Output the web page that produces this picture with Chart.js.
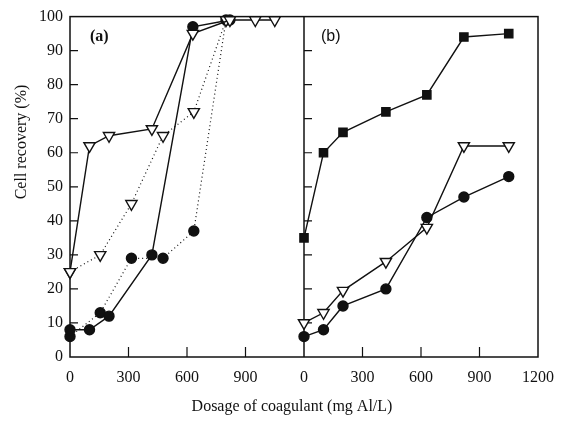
<!doctype html>
<html lang="en">
<head>
  <meta charset="utf-8">
  <title>Cell recovery vs coagulant dosage</title>
  <style>
    * { margin: 0; padding: 0; }
    body { background: #fff; }
    .chartBox { width: 565px; height: 423px; }
  </style>
</head>
<body>
  <div class="chartBox">
    <canvas id="myChart"></canvas>
  </div>
  <script src="https://cdn.jsdelivr.net/npm/chart.js"></script>
  <script>
    // setup - values

    // panel (a), solid lines
    const doseA = [0, 100, 200, 420, 630, 820, 950, 1050];
    const triA = [25, 62, 65, 67, 95, 99, 99, 99];
    const doseA2 = [0, 100, 200, 420, 630, 820];
    const circA = [8, 8, 12, 30, 97, 99];
    // panel (a), dotted lines
    const doseDot = [0, 155, 315, 477, 635, 800];
    const triDot = [25, 30, 45, 65, 72, 99];
    const circDot = [6, 13, 29, 29, 37, 99];

    // panel (b)
    const doseB = [0, 100, 200, 420, 630, 820, 1050];
    const squareB = [35, 60, 66, 72, 77, 94, 95];
    const triB = [10, 13, 19.5, 28, 38, 62, 62];
    const circB = [6, 8, 15, 20, 41, 47, 53];

    const yTicks = [0, 10, 20, 30, 40, 50, 60, 70, 80, 90, 100];
    const xTicks = [0, 300, 600, 900, 1200];

    const serif = '"Liberation Serif", "DejaVu Serif", serif';
    const ink = '#111';

    const pts = (xs, ys) => xs.map((x, i) => ({ x: x, y: ys[i] }));

    function series(xs, ys, axis, marker, dotted) {
      const s = {
        data: pts(xs, ys),
        xAxisID: axis,
        yAxisID: 'y',
        borderColor: ink,
        borderWidth: dotted ? 1.2 : 1.4,
        borderDash: dotted ? [1, 3] : [],
        pointBorderColor: ink,
        pointBorderWidth: 1.4,
        tension: 0,
        clip: false
      };
      if (marker === 'tri') {
        s.pointStyle = 'triangle';
        s.pointRotation = 180;
        s.pointRadius = 6.5;
        s.pointBackgroundColor = '#fff';
      } else if (marker === 'square') {
        s.pointStyle = 'rect';
        s.pointRadius = 5.8;
        s.pointBackgroundColor = ink;
      } else {
        s.pointStyle = 'circle';
        s.pointRadius = 5;
        s.pointBackgroundColor = ink;
      }
      return s;
    }

    const data = {
      datasets: [
        series(doseA, triA, 'xa', 'tri', false),
        series(doseDot, triDot, 'xa', 'tri', true),
        series(doseA2, circA, 'xa', 'circle', false),
        series(doseDot, circDot, 'xa', 'circle', true),
        series(doseB, triB, 'xb', 'tri', false),
        series(doseB, circB, 'xb', 'circle', false),
        series(doseB, squareB, 'xb', 'square', false)
      ]
    };

    // frame, inward ticks and labels
    const framePlugin = {
      id: 'framePlugin',
      beforeDatasetsDraw(chart) {
        const { ctx, chartArea: { top, bottom, left, right }, scales: { xa, xb, y } } = chart;
        ctx.save();
        ctx.strokeStyle = ink;
        ctx.lineWidth = 1.5;
        ctx.strokeRect(left, top, right - left, bottom - top);
        ctx.beginPath();
        ctx.moveTo(xb.left, top);
        ctx.lineTo(xb.left, bottom);
        ctx.stroke();

        ctx.lineWidth = 1.2;
        ctx.beginPath();
        yTicks.forEach(v => {
          if (v === 0 || v === 100) return;
          const py = y.getPixelForValue(v);
          ctx.moveTo(xa.left, py);
          ctx.lineTo(xa.left + 8, py);
          ctx.moveTo(xb.left, py);
          ctx.lineTo(xb.left + 8, py);
        });
        [xa, xb].forEach(sc => {
          xTicks.forEach(v => {
            if (v === 0 || v === 1200) return;
            const px = sc.getPixelForValue(v);
            ctx.moveTo(px, bottom);
            ctx.lineTo(px, bottom - 10);
          });
        });
        ctx.stroke();
        ctx.restore();
      },
      afterDraw(chart) {
        const { ctx, chartArea: { top, left }, scales: { xb } } = chart;
        ctx.save();
        ctx.fillStyle = ink;
        ctx.textBaseline = 'middle';

        ctx.font = 'bold 16px ' + serif;
        ctx.textAlign = 'left';
        ctx.fillText('(a)', left + 20, top + 20);
        ctx.font = '16px "Liberation Sans", sans-serif';
        ctx.fillText('(b)', xb.left + 17, top + 20);

        ctx.font = '16px ' + serif;
        ctx.textAlign = 'center';
        ctx.fillText('Dosage of coagulant (mg Al/L)', 292, 407);

        ctx.translate(22, 142);
        ctx.rotate(-Math.PI / 2);
        ctx.fillText('Cell recovery (%)', 0, 0);
        ctx.restore();
      }
    };

    function xScale(hideLast) {
      return {
        type: 'linear',
        position: 'bottom',
        stack: 'dose',
        stackWeight: 1,
        min: 0,
        max: 1200,
        afterFit: s => { s.height = 66; },
        afterBuildTicks: s => { s.ticks = xTicks.map(v => ({ value: v })); },
        grid: { display: false, drawTicks: false },
        border: { display: false },
        ticks: {
          padding: 11,
          autoSkip: false,
          maxRotation: 0,
          color: ink,
          font: { family: serif, size: 16 },
          callback: v => (hideLast && v === 1200 ? '' : String(v))
        }
      };
    }

    // config
    const config = {
      type: 'line',
      data,
      options: {
        responsive: false,
        animation: false,
        layout: { padding: { top: 13, right: 26, left: 0, bottom: 0 } },
        plugins: { legend: { display: false }, tooltip: { enabled: false } },
        scales: {
          xa: xScale(true),
          xb: xScale(false),
          y: {
            type: 'linear',
            position: 'left',
            min: 0,
            max: 100,
            afterFit: s => { s.width = 70; },
            afterBuildTicks: s => { s.ticks = yTicks.map(v => ({ value: v })); },
            grid: { display: false, drawTicks: false },
            border: { display: false },
            ticks: {
              padding: 7,
              autoSkip: false,
              color: ink,
              font: { family: serif, size: 16 }
            }
          }
        }
      },
      plugins: [framePlugin]
    };

    const canvas = document.getElementById('myChart');
    canvas.width = 565;
    canvas.height = 423;
    const myChart = new Chart(canvas, config);
  </script>
</body>
</html>
